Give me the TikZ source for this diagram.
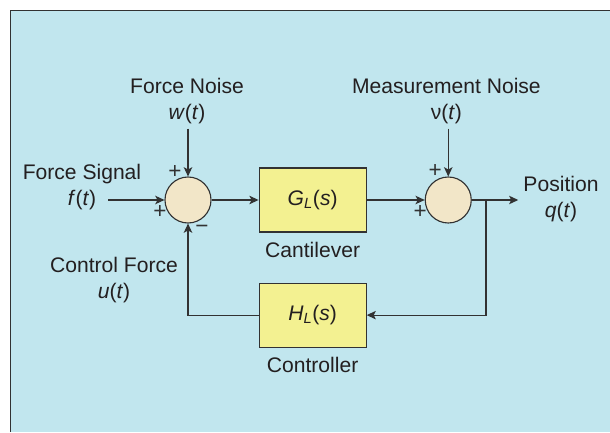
\documentclass[tikz,border=0pt]{standalone}
\usepackage{fontspec}
\setmainfont{Liberation Sans}
\usepackage{tikz}
\usetikzlibrary{arrows.meta,positioning,calc}
\definecolor{mybg}{RGB}{193,230,238}
\definecolor{mysum}{RGB}{242,230,200}
\definecolor{myblock}{RGB}{243,241,145}
\definecolor{myline}{RGB}{50,50,50}
\definecolor{mytext}{RGB}{35,31,32}
\newcommand{\vr}[1]{\textit{#1}}

\begin{document}
\begin{tikzpicture}[font=\fontsize{15}{18}\selectfont, text=mytext,
    line width=0.8pt, >={Stealth[length=6.5pt,width=6pt,inset=1.5pt]},
    sumnode/.style={circle, draw=myline, fill=mysum, minimum size=1.15cm, inner sep=0pt},
    blockbox/.style={draw=myline, fill=myblock, minimum width=2.675cm, minimum height=1.6cm},
    sgn/.style={font=\fontsize{16}{16}\selectfont, text=myline, inner sep=0pt}]
  \useasboundingbox (0,0) rectangle (15.25,10.8);
  \fill[mybg] (0.27,0) rectangle (15.25,10.53);
  \draw[myline] (0.27,0) -- (0.27,10.53) -- (15.25,10.53);

  % blocks and summing junctions
  \node[sumnode](s1) at (4.7,5.8){};
  \node[blockbox, right=1.175cm of s1](g){\vr{G}\textsubscript{\vr{L}}(\vr{s})};
  \node[sumnode, right=1.45cm of g](s2){};
  \node[blockbox, below=1.25cm of g](h){\vr{H}\textsubscript{\vr{L}}(\vr{s})};
  \node(gl) at ($(g.south)+(0,-0.43)$){Cantilever};
  \node(hl) at ($(h.south)+(0,-0.43)$){Controller};

  % signal labels
  \node[align=center](fn) at (4.675,8.275){Force Noise\\\vr{w}(\vr{t})};
  \node[align=center](mn) at (11.16,8.275){Measurement Noise\\ν(\vr{t})};
  \node[align=center](fs) at (2.05,6.125){Force Signal\\\vr{f}(\vr{t})};
  \node[align=center](cf) at (2.85,3.8){Control Force\\\vr{u}(\vr{t})};
  \node[align=center](pos) at (14.025,5.825){Position\\\vr{q}(\vr{t})};

  % signs
  \node[sgn] at ($(s1)+(-0.325,0.7)$){+};
  \node[sgn] at ($(s1)+(-0.7,-0.3)$){+};
  \node[sgn] at ($(s1)+(0.35,-0.725)$){−};
  \node[sgn] at ($(s2)+(-0.325,0.72)$){+};
  \node[sgn] at ($(s2)+(-0.7,-0.3)$){+};

  % connectors
  \coordinate (fin) at (2.7,5.8);
  \coordinate (br) at (12.15,5.8);
  \draw[myline,->] (fin) -- (s1.west);
  \draw[myline,->] (s1 |- fn.south) -- (s1.north);
  \draw[myline,->] (s2 |- mn.south) -- (s2.north);
  \draw[myline,->] (s1.east) -- (g.west);
  \draw[myline,->] (g.east) -- (s2.west);
  \draw[myline,->] (s2.east) -- (pos.west |- s2);
  \draw[myline,->] (br) |- (h.east);
  \draw[myline,->] (h.west) -| (s1.south);
\end{tikzpicture}
\end{document}
